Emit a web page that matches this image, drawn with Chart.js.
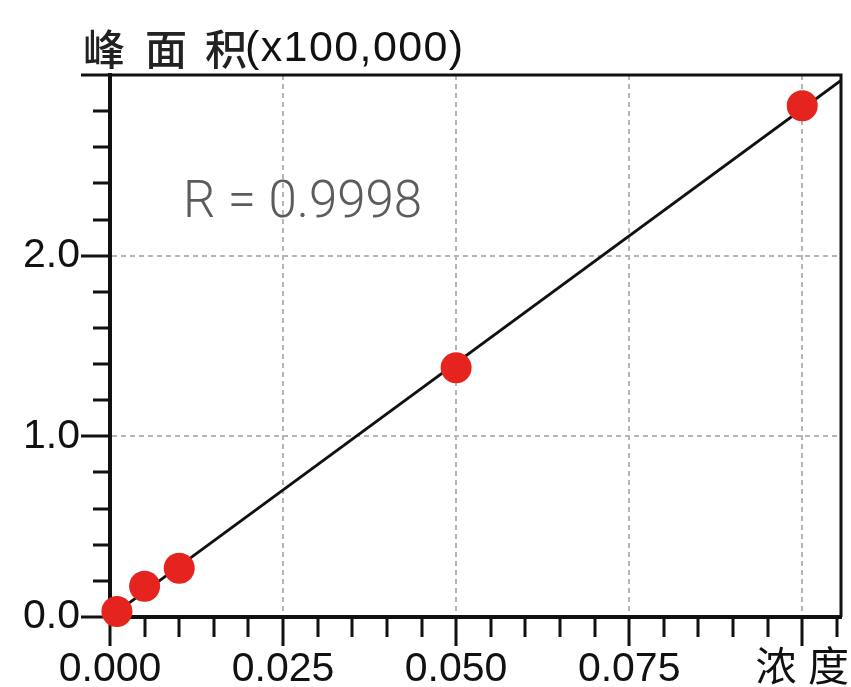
<!DOCTYPE html>
<html>
<head>
<meta charset="utf-8">
<script src="https://cdn.jsdelivr.net/npm/chart.js@4/dist/chart.umd.min.js"></script>
<style>
  html, body { margin: 0; padding: 0; background: #fff; }
  #wrap { position: relative; width: 851px; height: 687px; overflow: hidden; }
  #c { position: absolute; left: 0; top: 0; }
  .t { position: absolute; white-space: pre; line-height: 1; }
  .cjk { font-family: "Noto Sans CJK SC", sans-serif; font-weight: 500; font-size: 42px; color: #222; }
  .lat { font-family: "Liberation Sans", Arial, sans-serif; font-size: 43px; letter-spacing: 1.4px; color: #111; }
  #rtext { font-family: Roboto, "Liberation Sans", sans-serif; font-weight: 300; font-size: 51px; color: #5c5c5c; }
</style>
</head>
<body>
<div id="wrap">
  <canvas id="c" width="851" height="687"></canvas>
  <span class="t cjk" style="left:83px;top:26px">峰</span>
  <span class="t cjk" style="left:145px;top:26px">面</span>
  <span class="t cjk" style="left:205px;top:26px">积</span>
  <span class="t lat" style="left:245px;top:25px">(x100,000)</span>
  <span class="t" id="rtext" style="left:183px;top:174px">R = 0.9998</span>
</div>
<script>
// ---- data ----
const concentrations = [0.001, 0.005, 0.010, 0.050, 0.100];
const peakAreas      = [0.03, 0.17, 0.27, 1.38, 2.83];
const fitX = [0.0, 0.1056];
const fitY = [0.00, 2.97];
const xMajorLabels = ['0.000', '0.025', '0.050', '0.075', '浓 度'];
const yMajorLabels = ['0.0', '1.0', '2.0'];

const X_MIN = 0, X_MAX = 0.1056, X_STEP = 0.005;
const Y_MIN = 0, Y_MAX = 3.0, Y_STEP = 0.2;

const pointsData = concentrations.map((x, i) => ({x, y: peakAreas[i]}));
const lineData = fitX.map((x, i) => ({x, y: fitY[i]}));

const xIdx = v => Math.round(v / X_STEP);
const yIdx = v => Math.round(v / Y_STEP);
const xIsMajor = v => xIdx(v) % 5 === 0;
const yIsMajor = v => yIdx(v) % 5 === 0;

const frame = {
  id: 'frame',
  afterDatasetsDraw(chart) {
    const {ctx, chartArea: a} = chart;
    ctx.save();
    ctx.strokeStyle = '#111';
    ctx.lineWidth = 3;
    ctx.beginPath();
    ctx.moveTo(a.left, a.top);
    ctx.lineTo(a.right, a.top);
    ctx.lineTo(a.right, a.bottom);
    ctx.stroke();
    ctx.restore();
  }
};

const tickFont = {family: '"Liberation Sans", Arial, "Noto Sans CJK SC", sans-serif', size: 41, lineHeight: 1};

new Chart(document.getElementById('c'), {
  type: 'scatter',
  data: {
    datasets: [
      {
        label: 'points',
        data: pointsData,
        pointRadius: 15.5,
        pointHoverRadius: 15.5,
        backgroundColor: '#e5231f',
        borderWidth: 0,
        showLine: false,
        clip: false
      },
      {
        label: 'fit',
        data: lineData,
        showLine: true,
        borderColor: '#111',
        borderWidth: 2.8,
        pointRadius: 0,
        fill: false
      }
    ]
  },
  plugins: [frame],
  options: {
    responsive: false,
    animation: false,
    events: [],
    layout: { autoPadding: false, padding: {top: 75, right: 10, left: 0, bottom: 0} },
    plugins: { legend: {display: false}, tooltip: {enabled: false}, title: {display: false} },
    scales: {
      x: {
        type: 'linear',
        position: 'bottom',
        min: X_MIN, max: X_MAX,
        afterFit(s) { s.height = 70; s.paddingRight = 0; s.paddingLeft = 0; },
        ticks: {
          stepSize: X_STEP,
          includeBounds: false,
          autoSkip: false,
          maxRotation: 0,
          minRotation: 0,
          padding: 3,
          color: '#111',
          font: tickFont,
          callback(v) {
            const i = xIdx(v);
            return i % 5 === 0 ? (xMajorLabels[i / 5] ?? '') : '';
          }
        },
        grid: {
          drawOnChartArea: true,
          color: c => (c.tick && xIsMajor(c.tick.value) && xIdx(c.tick.value) !== 0) ? '#b5b5b5' : 'rgba(0,0,0,0)',
          lineWidth: 2,
          tickLength: 29,
          tickWidth: 3,
          tickColor: '#111',
          tickBorderDash: c => (c.tick && !xIsMajor(c.tick.value)) ? [18, 100] : []
        },
        border: {
          display: true,
          color: '#111',
          width: 4,
          dash: c => c.tick ? [5, 4] : []
        }
      },
      y: {
        type: 'linear',
        position: 'left',
        min: Y_MIN, max: Y_MAX,
        afterFit(s) { s.width = 110; },
        ticks: {
          stepSize: Y_STEP,
          includeBounds: false,
          autoSkip: false,
          padding: 1,
          color: '#111',
          font: tickFont,
          callback(v) {
            const i = yIdx(v);
            return i % 5 === 0 ? (yMajorLabels[i / 5] ?? '') : '';
          }
        },
        grid: {
          drawOnChartArea: true,
          color: c => (c.tick && yIsMajor(c.tick.value) && yIdx(c.tick.value) !== 0 && yIdx(c.tick.value) !== 15) ? '#b5b5b5' : 'rgba(0,0,0,0)',
          lineWidth: 2,
          tickLength: 29,
          tickWidth: 3,
          tickColor: '#111',
          tickBorderDash: c => (c.tick && !yIsMajor(c.tick.value)) ? [0, 12, 20, 100] : []
        },
        border: {
          display: true,
          color: '#111',
          width: 4,
          dash: c => c.tick ? [5, 4] : []
        }
      }
    }
  }
});
</script>
</body>
</html>
